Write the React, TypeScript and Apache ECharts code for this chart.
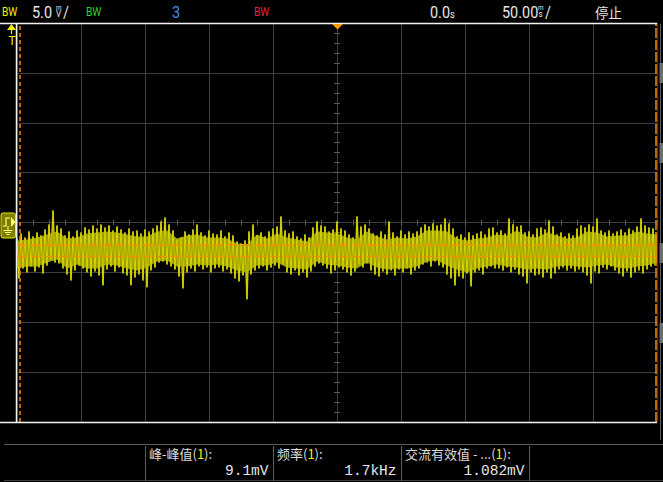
import React, { useEffect, useRef } from 'react';
import * as echarts from 'echarts';

// ---- data ----
const timeRangeUs = [-250, 250];
const timeDivUs = 50;
const voltRangeMv = [-20, 20];
const voltDivMv = 5;

// peak (upper) and trough (lower) samples of the noisy trace, mV, left to right
const traceHi = [
  -1.6, -1.1, -1.5, -0.9, -1.4, -1.0, -1.3, -0.7, -0.2, 1.2,
  -0.3, -0.6, -1.3, -0.9, -1.4, -0.8, -1.0, -0.5, -0.7, -0.3,
  -0.6, -0.2, -0.5, -0.3, -0.8, -0.4, -0.7, -1.0, -0.6, -0.9,
  -0.8, -1.1, -0.7, -0.9, -0.6, -0.3, 0.1, 0.5, -0.2, -0.8,
  -1.7, -1.5, -0.9, -1.2, -0.7, -0.2, -1.0, -1.3, -0.8, -1.1,
  -1.2, -0.8, -1.4, -1.0, -1.3, -1.9, -2.1, -1.8, -0.9, -0.2,
  -1.3, -1.0, -1.4, -0.9, -0.6, -0.4, 0.6, -0.8, -1.1, -0.9,
  -1.4, -1.6, -1.2, -1.5, -0.5, 0.1, -0.3, -0.4, -0.9, -0.7,
  0.1, -0.6, -0.8, -1.2, -1.5, 0.6, -0.4, -0.2, -0.6, -1.1,
  -1.3, -0.9, -1.2, 0.1, -1.0, -1.4, -0.8, -1.2, -0.9, -1.1,
  -0.9, -0.5, -0.2, -0.4, -0.1, -0.3, -0.2, 0.4, -0.1, -0.6,
  -1.4, -1.2, -1.5, -1.0, -1.3, -1.1, -0.9, -1.2, -0.6, -0.5,
  -1.0, -0.8, -1.1, 0.4, -0.2, -0.4, -0.3, -1.0, -0.9, -1.2,
  -0.6, -0.5, -0.7, 0.2, -0.4, -1.2, -1.0, -1.4, -1.1, -1.3,
  -0.6, -0.3, -0.5, -0.2, -0.4, 0.4, -0.8, -1.0, -0.8, -1.1,
  -0.9, -0.7, -1.0, -0.6, -0.8, -0.4, 0.4, -0.3, -0.5, -0.6,
];
const traceLo = [
  -5.6, -4.6, -5.0, -4.4, -4.9, -4.5, -5.1, -4.3, -3.7, -4.0,
  -4.1, -4.6, -5.2, -5.8, -4.8, -4.3, -4.6, -5.0, -5.4, -4.9,
  -5.3, -6.3, -4.7, -4.4, -4.9, -4.5, -5.1, -5.3, -6.3, -5.5,
  -5.2, -5.8, -6.5, -4.8, -4.5, -4.0, -3.9, -4.2, -4.4, -4.7,
  -5.4, -6.6, -5.0, -4.6, -4.9, -4.4, -4.7, -4.5, -5.0, -4.6,
  -4.5, -4.9, -4.7, -5.1, -5.6, -5.9, -5.3, -7.7, -5.2, -4.8,
  -4.6, -4.4, -4.8, -4.5, -4.3, -4.6, -4.2, -5.0, -5.2, -4.8,
  -5.3, -5.0, -5.5, -4.9, -4.4, -4.1, -4.3, -4.6, -5.1, -4.8,
  -4.5, -4.7, -5.0, -5.3, -4.9, -4.2, -4.5, -4.1, -4.8, -5.2,
  -5.4, -4.9, -5.2, -4.8, -5.3, -4.7, -5.0, -4.6, -5.2, -4.8,
  -4.6, -4.2, -4.0, -4.4, -3.9, -4.3, -4.5, -5.2, -5.6, -6.3,
  -5.4, -5.6, -5.1, -6.4, -5.0, -4.8, -5.2, -4.6, -4.4, -4.6,
  -4.6, -4.8, -4.5, -5.0, -4.7, -5.2, -5.4, -6.1, -5.0, -5.3,
  -5.2, -5.5, -5.0, -5.6, -5.1, -4.7, -4.5, -4.8, -4.6, -4.9,
  -4.7, -5.0, -5.3, -6.1, -4.9, -5.1, -4.5, -4.7, -4.4, -4.8,
  -5.1, -5.4, -4.9, -5.5, -5.0, -4.8, -5.1, -4.7, -4.4, -4.3,
];
// dense core of the trace (upper / lower edge), mV, left to right
const coreTop = [
  -1.8, -1.7, -1.5, -1.2, -0.9, -1.6, -1.5, -1.1, -1.0, -0.9,
  -1.0, -1.2, -1.4, -1.4, -0.9, -0.8, -1.6, -1.3, -1.2, -1.5,
  -1.5, -1.6, -2.1, -2.2, -1.2, -1.6, -1.1, -1.5, -1.7, -1.9,
  -0.9, -1.0, -1.1, -1.5, -1.7, -0.9, -1.4, -1.7, -1.5, -1.6,
  -1.4, -0.8, -0.8, -0.9, -1.6, -1.8, -1.6, -1.5, -1.2, -1.3,
  -0.8, -1.4, -1.5, -1.0, -1.3, -1.6, -1.5, -0.9, -1.0, -1.4,
  -1.3, -1.3, -0.9, -1.1, -1.2,
];
const coreBottom = [
  -4.6, -4.4, -4.4, -4.0, -3.7, -4.6, -4.2, -4.6, -4.6, -4.2,
  -4.3, -4.6, -4.8, -4.5, -3.9, -3.8, -4.4, -4.4, -4.2, -4.3,
  -4.2, -4.4, -4.8, -5.0, -4.3, -4.3, -4.0, -4.5, -4.6, -4.7,
  -3.9, -4.2, -4.3, -4.5, -4.6, -4.0, -4.5, -4.7, -4.6, -4.6,
  -4.4, -3.9, -3.8, -4.3, -4.7, -5.0, -4.6, -4.4, -4.2, -4.4,
  -4.5, -4.7, -4.6, -4.7, -4.4, -4.3, -4.4, -4.5, -4.3, -4.2,
  -4.5, -4.6, -4.4, -4.3, -4.0,
];

const refLevelsMv = [-2.25, -3.4];
const cursorTimesUs = [-248, 249];

const measLabels = ['峰-峰值', '频率', '交流有效值 - ...'];
const measSources = ['1', '1', '1'];
const measValues = ['9.1mV', '1.7kHz', '1.082mV'];

const chScaleText = '5.0';
const chScaleUnit = ['m', 'V'];
const timeOffsetText = '0.0';
const timeScaleText = '50.00';
const timeScaleUnit = ['m', 's'];
const runState = '停止';

const COND = 'Roboto, "DejaVu Sans", sans-serif';
const CJK = '"Noto Sans CJK SC", "Noto Sans", sans-serif';
const MONO = '"Liberation Mono", "DejaVu Sans Mono", monospace';

function txt(x: number, y: number, text: string, opts: any = {}) {
  const { size = 13, fill = '#e6e6e6', family = COND, align = 'left', sx = 1, rich, z = 20 } = opts;
  return {
    type: 'text',
    x,
    y,
    scaleX: sx,
    z,
    silent: true,
    style: {
      text,
      x: 0,
      y: 0,
      fill,
      font: `${size}px ${family}`,
      textAlign: align,
      align,
      textVerticalAlign: 'middle',
      verticalAlign: 'middle',
      rich,
    },
  };
}

function line(x1: number, y1: number, x2: number, y2: number, stroke: string, lineWidth = 1, z = 20) {
  return {
    type: 'line',
    z,
    silent: true,
    shape: { x1, y1, x2, y2 },
    style: { stroke, lineWidth },
  };
}

export default function App() {
  const ref = useRef<HTMLDivElement>(null);

  useEffect(() => {
    document.body.style.margin = '0';
    document.body.style.background = '#000';
    const chart = echarts.init(ref.current!, undefined, { renderer: 'svg' });

    const span = timeRangeUs[1] - timeRangeUs[0];
    const n = traceHi.length;
    const dt = span / n;
    const trace: number[][] = [];
    for (let i = 0; i < n; i++) {
      trace.push([timeRangeUs[0] + i * dt, traceHi[i]]);
      trace.push([timeRangeUs[0] + (i + 0.5) * dt, traceLo[i]]);
    }
    const cdt = span / (coreTop.length - 1);
    const coreData = coreTop.map((v, k) => [timeRangeUs[0] + k * cdt, v, coreBottom[k]]);

    const hidden = { show: false };
    const tickStyle = { show: true, length: 3, lineStyle: { color: '#5a5a5a', width: 1 } };

    const graphic: any[] = [];
    // plot frame
    graphic.push(line(0, 23.5, 657, 23.5, '#f2f2f2', 1.5));
    graphic.push(line(0, 422.5, 657, 422.5, '#f2f2f2', 1.5));
    graphic.push(line(16.5, 23, 16.5, 423, '#f2f2f2', 1.5));
    // top bar
    graphic.push(txt(2, 12, 'BW', { size: 12, fill: '#f0f000', sx: 0.85 }));
    graphic.push(txt(32, 12, chScaleText, { size: 17, sx: 0.85 }));
    graphic.push(txt(56, 7.5, chScaleUnit[0], { size: 7, sx: 0.9 }));
    graphic.push(txt(56, 14, chScaleUnit[1], { size: 9, sx: 0.9 }));
    graphic.push(txt(63, 12, '/', { size: 17, sx: 0.85 }));
    graphic.push(txt(86, 12, 'BW', { size: 12, fill: '#2fd02f', sx: 0.85 }));
    graphic.push(txt(172, 12, '3', { size: 17, fill: '#4a8cf0', sx: 0.85 }));
    graphic.push(txt(254, 12, 'BW', { size: 12, fill: '#e8203a', sx: 0.85 }));
    graphic.push(txt(430, 12, timeOffsetText, { size: 17, sx: 0.85 }));
    graphic.push(txt(450, 14, 's', { size: 11, sx: 0.85 }));
    graphic.push(txt(502, 12, timeScaleText, { size: 17, sx: 0.85 }));
    graphic.push(txt(538, 7.5, timeScaleUnit[0], { size: 7, sx: 0.9 }));
    graphic.push(txt(538.5, 14, timeScaleUnit[1], { size: 9, sx: 0.9 }));
    graphic.push(txt(545, 12, '/', { size: 17, sx: 0.85 }));
    graphic.push(txt(595, 12, runState, { size: 13.5, family: CJK }));
    // trigger level marker (top-left)
    graphic.push({ type: 'polygon', z: 20, silent: true, shape: { points: [[7, 30], [16, 30], [11.5, 24]] }, style: { fill: '#f0f000' } });
    graphic.push(line(11.5, 30, 11.5, 34, '#f0f000', 1.2));
    graphic.push(txt(12, 40.5, 'T', { size: 12, fill: '#f0f000', align: 'center' }));
    // trigger position marker (top centre)
    graphic.push({ type: 'polygon', z: 20, silent: true, shape: { points: [[332, 24], [343, 24], [337.5, 29.5]] }, style: { fill: '#ff9a00' } });
    // channel 1 ground marker
    graphic.push({ type: 'rect', z: 20, silent: true, shape: { x: 1, y: 213, width: 14.5, height: 25, r: 2 }, style: { fill: '#7d7d00', stroke: '#e8e800', lineWidth: 1 } });
    graphic.push({ type: 'polygon', z: 21, silent: true, shape: { points: [[11, 217], [15.5, 222], [11, 227]] }, style: { fill: '#ffff70' } });
    graphic.push({ type: 'polyline', z: 21, silent: true, shape: { points: [[3, 226], [6, 226], [6, 218], [10, 218]] }, style: { stroke: '#ffff70', lineWidth: 1.2, fill: 'none' } });
    graphic.push(line(8, 226, 8, 230, '#ffff70', 1, 21));
    graphic.push(line(3.5, 230.5, 12.5, 230.5, '#ffff70', 1, 21));
    graphic.push(line(5, 232.5, 11, 232.5, '#ffff70', 1, 21));
    graphic.push(line(6.5, 234.5, 9.5, 234.5, '#ffff70', 1, 21));
    // right-hand scroll strip
    graphic.push(line(660.5, 24, 660.5, 440, '#5a5a5a', 1));
    [[63, 20], [143, 20], [243, 20], [323, 20]].forEach(([y, h]) => {
      graphic.push({ type: 'rect', z: 20, silent: true, shape: { x: 659.5, y, width: 3.5, height: h }, style: { fill: '#6e6e6e' } });
    });
    // measurement panel
    graphic.push(line(4, 444.5, 663, 444.5, '#5e5e5e', 1));
    graphic.push(line(4, 480.5, 663, 480.5, '#3c3c3c', 1));
    const cellEdges = [145.5, 273.5, 401.5, 529.5];
    cellEdges.forEach((x) => graphic.push(line(x, 446, x, 481, '#5e5e5e', 1)));
    measLabels.forEach((lab, i) => {
      const left = cellEdges[i] + 3.5;
      const right = cellEdges[i + 1] - 5;
      graphic.push(
        txt(left, 453.5, `${lab}({y|${measSources[i]}}):`, {
          size: 13,
          family: CJK,
          fill: '#dcdcdc',
          rich: { y: { fill: '#f0f000', color: '#f0f000', font: `13px ${CJK}` } },
        })
      );
      graphic.push(txt(right, 471, measValues[i], { size: 14.5, family: MONO, fill: '#e6e6e6', align: 'right' }));
    });

    const lineBase = { type: 'line', xAxisIndex: 0, yAxisIndex: 0, symbol: 'none', silent: true };

    chart.setOption({
      animation: false,
      backgroundColor: '#000',
      grid: { left: 17, right: 6, top: 23, bottom: 60, show: false },
      xAxis: [
        {
          type: 'value',
          min: timeRangeUs[0],
          max: timeRangeUs[1],
          interval: timeDivUs,
          axisLine: { show: false, onZero: false },
          axisTick: hidden,
          axisLabel: hidden,
          splitLine: { show: true, lineStyle: { color: '#3e3e3e', width: 1 } },
        },
        {
          type: 'value',
          position: 'top',
          min: timeRangeUs[0],
          max: timeRangeUs[1],
          interval: timeDivUs / 4,
          axisLine: { show: false, onZero: true, onZeroAxisIndex: 0 },
          axisTick: tickStyle,
          axisLabel: hidden,
          splitLine: hidden,
        },
        {
          type: 'value',
          position: 'bottom',
          min: timeRangeUs[0],
          max: timeRangeUs[1],
          interval: timeDivUs / 4,
          axisLine: { show: false, onZero: true, onZeroAxisIndex: 0 },
          axisTick: tickStyle,
          axisLabel: hidden,
          splitLine: hidden,
        },
      ],
      yAxis: [
        {
          type: 'value',
          min: voltRangeMv[0],
          max: voltRangeMv[1],
          interval: voltDivMv,
          axisLine: { show: false, onZero: false },
          axisTick: hidden,
          axisLabel: hidden,
          splitLine: { show: true, lineStyle: { color: '#3e3e3e', width: 1 } },
        },
        {
          type: 'value',
          position: 'left',
          min: voltRangeMv[0],
          max: voltRangeMv[1],
          interval: voltDivMv / 5,
          axisLine: { show: false, onZero: true, onZeroAxisIndex: 0 },
          axisTick: tickStyle,
          axisLabel: hidden,
          splitLine: hidden,
        },
        {
          type: 'value',
          position: 'right',
          min: voltRangeMv[0],
          max: voltRangeMv[1],
          interval: voltDivMv / 5,
          axisLine: { show: false, onZero: true, onZeroAxisIndex: 0 },
          axisTick: tickStyle,
          axisLabel: hidden,
          splitLine: hidden,
        },
      ],
      series: [
        {
          type: 'custom',
          xAxisIndex: 0,
          yAxisIndex: 0,
          silent: true,
          z: 2,
          data: coreData,
          encode: { x: 0, y: [1, 2] },
          renderItem: (params: any, api: any) => {
            if (params.dataIndex !== 0) return null;
            const upper = coreData.map((d) => api.coord([d[0], d[1]]));
            const lower = coreData.map((d) => api.coord([d[0], d[2]])).reverse();
            return {
              type: 'polygon',
              shape: { points: upper.concat(lower) },
              style: { fill: '#a2a200' },
            };
          },
        },
        {
          ...lineBase,
          data: trace,
          z: 3,
          lineStyle: { color: '#8f8f00', width: 1.6 },
        },
        {
          ...lineBase,
          data: trace,
          z: 4,
          lineStyle: { color: '#dcdc00', width: 0.9 },
        },
        ...refLevelsMv.map((v, i) => ({
          ...lineBase,
          data: [
            [timeRangeUs[0], v],
            [timeRangeUs[1], v],
          ],
          z: 8,
          lineStyle: { color: '#ff8a00', width: i === 0 ? 1.6 : 1.3, type: [10, 4] },
        })),
        {
          ...lineBase,
          data: [],
          z: 8,
          markLine: {
            silent: true,
            symbol: 'none',
            label: { show: false },
            animation: false,
            data: [
              { xAxis: cursorTimesUs[0], lineStyle: { color: '#ff8a00', width: 1.5, type: [4, 3] } },
              { xAxis: cursorTimesUs[1], lineStyle: { color: '#ff8a00', width: 1.5, type: [10, 2] } },
            ],
          },
        },
      ],
      graphic: { elements: graphic },
    });

    return () => chart.dispose();
  }, []);

  return <div ref={ref} style={{ position: 'absolute', left: 0, top: 0, width: 663, height: 482, background: '#000' }} />;
}
